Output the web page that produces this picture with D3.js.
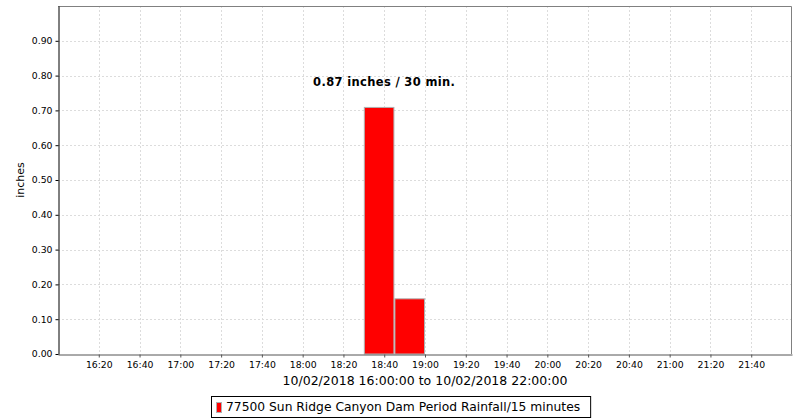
<!DOCTYPE html>
<html>
<head>
<meta charset="utf-8">
<script src="https://cdn.jsdelivr.net/npm/d3@7"></script>
<style>
  html, body { margin: 0; padding: 0; background: #fff; }
  svg { display: block; font-family: "DejaVu Sans", sans-serif; }
</style>
</head>
<body>
<svg id="chart" width="800" height="420"></svg>
<script>
// ---- data ----
const barStarts = ["2018-10-02T18:30", "2018-10-02T18:45"];
const barValues = [0.71, 0.16];
const binMinutes = 15;
const xDomain = ["2018-10-02T16:00", "2018-10-02T22:00"];
const xTickLabels = ["16:20","16:40","17:00","17:20","17:40","18:00","18:20","18:40","19:00","19:20","19:40","20:00","20:20","20:40","21:00","21:20","21:40"];
const yTicks = [0.0, 0.1, 0.2, 0.3, 0.4, 0.5, 0.6, 0.7, 0.8, 0.9];
const annotationText = "0.87 inches / 30 min.";
const annotationAt = ["2018-10-02T18:40", 0.77];
const xTitle = "10/02/2018 16:00:00 to 10/02/2018 22:00:00";
const yTitle = "inches";
const legendLabel = "77500 Sun Ridge Canyon Dam Period Rainfall/15 minutes";

// ---- layout ----
const parse = d3.timeParse("%Y-%m-%dT%H:%M");
const svg = d3.select("#chart");
const L = 58, R = 792, T = 6, B = 354;

const x = d3.scaleTime().domain(xDomain.map(parse)).range([L, R]);
const y = d3.scaleLinear().domain([0, 1]).range([B, T]);

const xTickDates = xTickLabels.map(s => parse("2018-10-02T" + s));

// grid
const grid = svg.append("g").attr("stroke", "#dcdcdc").attr("stroke-width", 1).attr("stroke-dasharray", "2,2");
grid.selectAll("line.v").data(xTickDates).join("line")
  .attr("x1", d => Math.round(x(d)) + 0.5).attr("x2", d => Math.round(x(d)) + 0.5)
  .attr("y1", T).attr("y2", B);
grid.selectAll("line.h").data(yTicks.filter(v => v > 0)).join("line")
  .attr("x1", L).attr("x2", R)
  .attr("y1", d => Math.round(y(d)) + 0.5).attr("y2", d => Math.round(y(d)) + 0.5);

// bars
const bars = barStarts.map((s, i) => ({ start: parse(s), value: barValues[i] }));
svg.append("g").selectAll("rect").data(bars).join("rect")
  .attr("x", d => x(d.start) + 0.5)
  .attr("y", d => y(d.value) + 0.5)
  .attr("width", d => x(d3.timeMinute.offset(d.start, binMinutes)) - x(d.start) - 1)
  .attr("height", d => y(0) - y(d.value) - 0.5)
  .attr("fill", "#ff0000")
  .attr("stroke", "#b0b0b0")
  .attr("stroke-width", 1);

// frame (top/right)
svg.append("path")
  .attr("d", `M${L},${T + 0.5}H${R - 0.5}V${B}`)
  .attr("fill", "none").attr("stroke", "#808080").attr("stroke-width", 1);

// x axis
const xAxis = d3.axisBottom(x).tickValues(xTickDates).tickFormat(d3.timeFormat("%H:%M")).tickSizeInner(3).tickSizeOuter(0).tickPadding(4);
const gx = svg.append("g").attr("transform", `translate(0,${B + 0.5})`).call(xAxis);
gx.select(".domain").attr("stroke", "#555");
gx.selectAll(".tick line").attr("stroke", "#555");
gx.selectAll("text").attr("font-size", "9.3px").attr("fill", "#000").attr("font-family", "DejaVu Sans");

// y axis
const yAxis = d3.axisLeft(y).tickValues(yTicks).tickFormat(d3.format(".2f")).tickSizeInner(3).tickSizeOuter(0).tickPadding(3);
const gy = svg.append("g").attr("transform", `translate(${L + 0.5},0)`).call(yAxis);
gy.select(".domain").attr("stroke", "#000");
gy.selectAll(".tick line").attr("stroke", "#000");
gy.selectAll("text").attr("font-size", "9.3px").attr("fill", "#000").attr("font-family", "DejaVu Sans");

// annotation
svg.append("text")
  .attr("x", x(parse(annotationAt[0])))
  .attr("y", y(annotationAt[1]))
  .attr("text-anchor", "middle")
  .attr("font-size", "11.5px").attr("font-weight", "bold").attr("fill", "#000")
  .attr("letter-spacing", "0.35px")
  .text(annotationText);

// axis titles
svg.append("text")
  .attr("x", (L + R) / 2).attr("y", 384.5)
  .attr("text-anchor", "middle").attr("font-size", "12.5px").attr("fill", "#000")
  .text(xTitle);
svg.append("text")
  .attr("transform", `translate(23.5,${(T + B) / 2}) rotate(-90)`)
  .attr("text-anchor", "middle").attr("font-size", "11px").attr("fill", "#000")
  .text(yTitle);

// legend
const lg = svg.append("g");
const lt = lg.append("text").attr("x", 226).attr("y", 411).attr("font-size", "12.3px").attr("fill", "#000").text(legendLabel);
const tw = lt.node().getComputedTextLength();
lg.insert("rect", "text").attr("x", 211.5).attr("y", 396.5).attr("width", tw + 226 - 211 + 10).attr("height", 21)
  .attr("fill", "#fff").attr("stroke", "#000").attr("stroke-width", 1);
lg.append("rect").attr("x", 216.5).attr("y", 402.5).attr("width", 5).attr("height", 10)
  .attr("fill", "#ff0000").attr("stroke", "#b0b0b0").attr("stroke-width", 1);
</script>
</body>
</html>
